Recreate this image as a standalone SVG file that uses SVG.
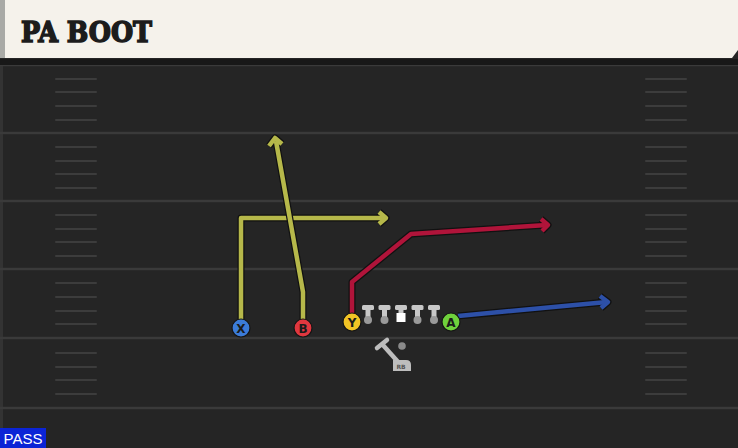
<svg xmlns="http://www.w3.org/2000/svg" width="738" height="448" viewBox="0 0 738 448">
<style>
.fl{stroke:#3a3a3a;stroke-width:2.5}
.hm{stroke:#3c3c3c;stroke-width:2;stroke-linecap:round}
.rt{fill:none;stroke-width:4.5;stroke-linejoin:round;stroke-linecap:butt}
.ol{fill:none;stroke:#111;stroke-width:7;stroke-linejoin:round}
.pl{stroke:#151515;stroke-width:1.2}
.lt{font-family:"DejaVu Sans","Liberation Sans",sans-serif;font-weight:bold;font-size:12px;fill:#1a1a1a;text-anchor:middle}
.ln{fill:#c8c8c8}
</style>
<defs>
<g id="hash"><line class="hm" x1="0" y1="0" x2="40" y2="0"/></g>
<g id="tk">
<rect x="-6" y="0" width="12" height="5" rx="1.5" class="ln"/>
<rect x="-2.5" y="3" width="5" height="12" class="ln"/>
<circle cx="0" cy="15" r="4" fill="#9a9a9a"/>
</g>
</defs>
<rect width="738" height="448" fill="#252525"/>
<rect x="0" y="60" width="3" height="388" fill="#333"/>
<g>
<line class="fl" x1="0" y1="65" x2="738" y2="65"/>
<line class="fl" x1="0" y1="133" x2="738" y2="133"/>
<line class="fl" x1="0" y1="201" x2="738" y2="201"/>
<line class="fl" x1="0" y1="269" x2="738" y2="269"/>
<line class="fl" x1="0" y1="338" x2="738" y2="338"/>
<line class="fl" x1="0" y1="408" x2="738" y2="408"/>
</g>
<g>
<use href="#hash" x="56" y="79"/><use href="#hash" x="56" y="92"/><use href="#hash" x="56" y="106"/><use href="#hash" x="56" y="120"/>
<use href="#hash" x="56" y="147"/><use href="#hash" x="56" y="161"/><use href="#hash" x="56" y="174"/><use href="#hash" x="56" y="188"/>
<use href="#hash" x="56" y="215"/><use href="#hash" x="56" y="229"/><use href="#hash" x="56" y="242"/><use href="#hash" x="56" y="256"/>
<use href="#hash" x="56" y="283"/><use href="#hash" x="56" y="297"/><use href="#hash" x="56" y="311"/><use href="#hash" x="56" y="324"/>
<use href="#hash" x="56" y="353"/><use href="#hash" x="56" y="367"/><use href="#hash" x="56" y="380"/><use href="#hash" x="56" y="394"/>
<use href="#hash" x="646" y="79"/><use href="#hash" x="646" y="92"/><use href="#hash" x="646" y="106"/><use href="#hash" x="646" y="120"/>
<use href="#hash" x="646" y="147"/><use href="#hash" x="646" y="161"/><use href="#hash" x="646" y="174"/><use href="#hash" x="646" y="188"/>
<use href="#hash" x="646" y="215"/><use href="#hash" x="646" y="229"/><use href="#hash" x="646" y="242"/><use href="#hash" x="646" y="256"/>
<use href="#hash" x="646" y="283"/><use href="#hash" x="646" y="297"/><use href="#hash" x="646" y="311"/><use href="#hash" x="646" y="324"/>
<use href="#hash" x="646" y="353"/><use href="#hash" x="646" y="367"/><use href="#hash" x="646" y="380"/><use href="#hash" x="646" y="394"/>
</g>
<g id="header">
<rect x="0" y="59" width="738" height="6" fill="#181818"/>
<path d="M0 0 H738 V50 L732 58 H0 Z" fill="#f5f2eb"/>
<rect x="0" y="0" width="5" height="58" fill="#a9aaa6"/>
<text x="21" y="42" font-family="'DejaVu Serif','Liberation Serif',serif" font-weight="900" font-size="28" fill="#1c1c1c" stroke="#1c1c1c" stroke-width="1.6" textLength="131" lengthAdjust="spacingAndGlyphs">PA BOOT</text>
</g>
<g id="routes">
<path class="ol" d="M241 322 V218 H383"/>
<path class="ol" d="M379 212 L386 218 L379 224"/>
<path class="rt" stroke="#b6b84a" d="M241 322 V218 H383"/>
<path class="rt" stroke="#b6b84a" d="M379 212 L386 218 L379 224"/>

<path class="ol" d="M303 322 V292 L276 141"/>
<path class="ol" d="M269 146 L275 138 L282 144"/>
<path class="rt" stroke="#b6b84a" d="M303 322 V292 L276 141"/>
<path class="rt" stroke="#b6b84a" d="M269 146 L275 138 L282 144"/>

<path class="ol" d="M352 316 V282 L411 234 L547 225"/>
<path class="ol" d="M541 219 L548 225 L542 231"/>
<path class="rt" stroke="#b0143a" d="M352 316 V282 L411 234 L547 225"/>
<path class="rt" stroke="#b0143a" d="M541 219 L548 225 L542 231"/>

<path class="ol" d="M458 316 L607 302"/>
<path class="ol" d="M600 296 L608 302 L601 308"/>
<path class="rt" stroke="#2d50a8" d="M458 316 L607 302"/>
<path class="rt" stroke="#2d50a8" d="M600 296 L608 302 L601 308"/>
</g>
<g id="oline">
<use href="#tk" x="368" y="305"/>
<use href="#tk" x="384.5" y="305"/>
<g><rect x="395" y="305" width="12" height="5" rx="1.5" class="ln"/><rect x="398.5" y="308" width="5" height="6" class="ln"/><rect x="396.5" y="313" width="9" height="9" fill="#fff"/></g>
<use href="#tk" x="417.5" y="305"/>
<use href="#tk" x="434" y="305"/>
</g>
<g id="rb">
<line x1="382" y1="344" x2="399" y2="363" stroke="#bdbdbd" stroke-width="4.5"/>
<line x1="377" y1="348" x2="387" y2="340" stroke="#bdbdbd" stroke-width="4.5" stroke-linecap="round"/>
<circle cx="402" cy="346" r="3.8" fill="#8a8a8a"/>
<path d="M393 360 H406 Q411 360 411 365 V371 H393 Z" fill="#bdbdbd"/>
<text x="401" y="369" font-family="'DejaVu Sans',sans-serif" font-size="6" font-weight="bold" fill="#555" text-anchor="middle">RB</text>
</g>
<g id="X"><circle cx="241" cy="328" r="9" fill="#3b7bd8" class="pl"/><text class="lt" x="241" y="332.5">X</text></g>
<g id="B"><circle cx="303" cy="328" r="9" fill="#e0373f" class="pl"/><text class="lt" x="303" y="332.5">B</text></g>
<g id="Y"><circle cx="352" cy="322" r="9" fill="#f2c425" class="pl"/><text class="lt" x="352" y="326.5">Y</text></g>
<g id="A"><circle cx="451" cy="322" r="9" fill="#6fd13c" class="pl"/><text class="lt" x="451" y="326.5">A</text></g>
<g id="pass">
<rect x="0" y="428" width="46" height="20" fill="#0b24d6"/>
<text x="23" y="444" font-family="'Liberation Sans','DejaVu Sans',sans-serif" font-size="15" fill="#fff" text-anchor="middle">PASS</text>
</g>
</svg>
